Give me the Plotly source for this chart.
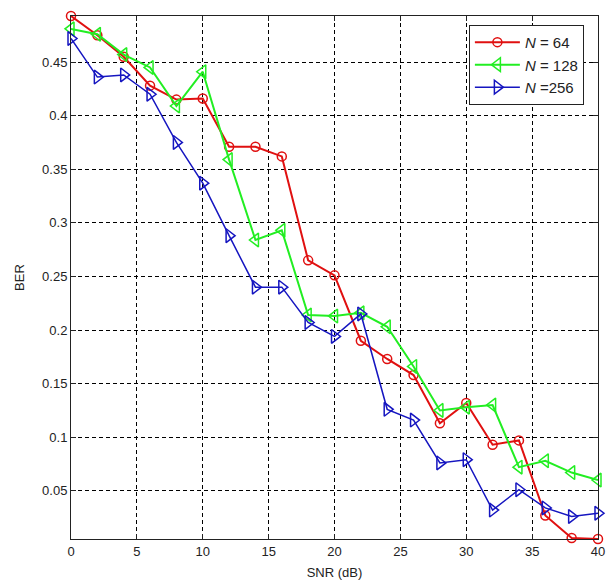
import plotly.graph_objects as go

snr = [0, 2, 4, 6, 8, 10, 12, 14, 16, 18, 20, 22, 24, 26, 28, 30, 32, 34, 36, 38, 40]
ber_64 = [0.493, 0.475, 0.455, 0.428, 0.415, 0.416, 0.371, 0.371, 0.362, 0.265, 0.251, 0.190,
          0.173, 0.158, 0.113, 0.132, 0.093, 0.097, 0.027, 0.006, 0.005]
ber_128 = [0.481, 0.476, 0.457, 0.445, 0.409, 0.441, 0.359, 0.284, 0.293, 0.214, 0.213, 0.216,
           0.203, 0.166, 0.125, 0.128, 0.130, 0.072, 0.078, 0.067, 0.060]
ber_256 = [0.472, 0.436, 0.438, 0.420, 0.375, 0.337, 0.288, 0.240, 0.240, 0.207, 0.194, 0.215,
           0.126, 0.116, 0.076, 0.079, 0.032, 0.051, 0.034, 0.026, 0.029]

names = ["<i>N</i> = 64", "<i>N</i> = 128", "<i>N</i> =256"]
colors = ["#e01010", "#22ee22", "#1515c0"]
symbols = ["circle-open", "triangle-left-open", "triangle-right-open"]
widths = [2, 2, 1.5]
sizes = [9, 12, 12]

fig = go.Figure()
for y, n, c, s, w, ms in zip([ber_64, ber_128, ber_256], names, colors, symbols, widths, sizes):
    fig.add_trace(go.Scatter(
        x=snr, y=y, name=n, mode="lines+markers",
        line=dict(color=c, width=w),
        marker=dict(symbol=s, size=ms, color=c, line=dict(color=c, width=1.5)),
        cliponaxis=False,
    ))

axis_common = dict(
    showline=True, linecolor="#222", linewidth=1, mirror="ticks",
    ticks="inside", ticklen=5, tickcolor="#222",
    showgrid=True, gridcolor="black", gridwidth=1, griddash="4px,3px",
    zeroline=False, ticklabeloverflow="allow", automargin=False,
    tickfont=dict(family="Liberation Sans, Arial", size=13, color="#222"),
)

fig.update_layout(
    width=606, height=580,
    margin=dict(l=71, r=8, t=16, b=41),
    paper_bgcolor="white", plot_bgcolor="white",
    font=dict(family="Liberation Sans, Arial", size=13, color="#222"),
    showlegend=True,
    legend=dict(
        x=0.755, y=0.983, xanchor="left", yanchor="top",
        bgcolor="white", bordercolor="#222", borderwidth=1,
        font=dict(family="Liberation Sans, Arial", size=15, color="#222"),
        itemwidth=45, tracegroupgap=0,
    ),
    xaxis=dict(range=[0, 40], dtick=5, tick0=0,
               title=dict(text="SNR (dB)", standoff=10, font=dict(size=13)), **axis_common),
    yaxis=dict(range=[0.005, 0.493], dtick=0.05, tick0=0,
               title=dict(text="BER", standoff=14, font=dict(size=13)), **axis_common),
)

fig.write_html("out.html")
